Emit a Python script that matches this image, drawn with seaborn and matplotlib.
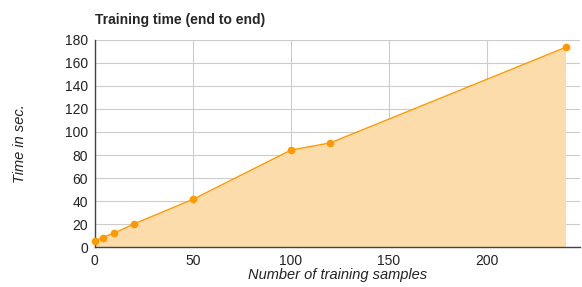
import seaborn as sns
import matplotlib.pyplot as plt
import pandas as pd

# training samples vs end-to-end time
samples = [0, 4, 10, 20, 50, 100, 120, 240]
seconds = [5.2, 8.3, 12.3, 20.2, 41.5, 84.3, 90.5, 173.5]

df = pd.DataFrame({"samples": samples, "seconds": seconds})

sns.set_style("white")
plt.rcParams['font.family'] = ['Liberation Sans', 'DejaVu Sans']

fig = plt.figure(figsize=(5.82, 2.87), dpi=100)
ax = fig.add_axes([0.163, 0.139, 0.834, 0.722])

ax.fill_between(df["samples"], df["seconds"], color="#fddcab", zorder=1, linewidth=0)
sns.lineplot(data=df, x="samples", y="seconds", ax=ax, color="#ff9900",
             linewidth=1, marker="o", markersize=5.5, markeredgewidth=0, zorder=3,
             clip_on=False)

ax.set_xlim(0, 247.5)
ax.set_ylim(0, 180)
ax.set_xticks([0, 50, 100, 150, 200])
ax.set_yticks(range(0, 181, 20))
ax.grid(True, color="#cccccc", linewidth=0.8, zorder=0)
ax.set_axisbelow(True)

for s in ["top", "right"]:
    ax.spines[s].set_visible(False)
ax.spines["left"].set_color("#444444")
ax.spines["bottom"].set_color("#444444")
ax.spines["left"].set_linewidth(1)
ax.spines["bottom"].set_linewidth(1)

ax.tick_params(axis="both", length=0, labelsize=10, colors="#222222", pad=5)
ax.set_xlabel("Number of training samples", fontsize=10.5, style="italic", color="#222222", labelpad=0)
ax.set_ylabel("Time in sec.", fontsize=10.5, style="italic", color="#222222", labelpad=27)
fig.text(0.163, 0.905, "Training time (end to end)", fontsize=10, fontweight="bold", ha="left", va="bottom")

fig.savefig("out.png", dpi=100)
